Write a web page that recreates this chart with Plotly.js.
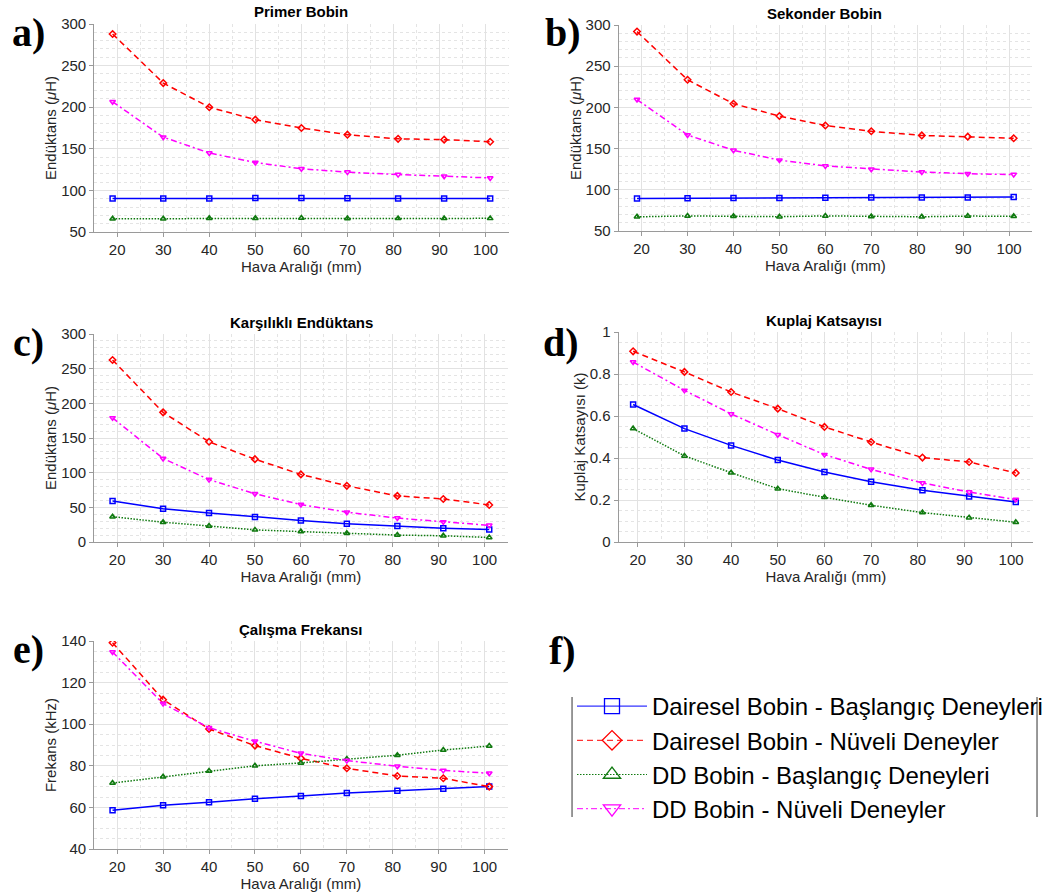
<!DOCTYPE html>
<html>
<head>
<meta charset="utf-8">
<script src="https://cdn.plot.ly/plotly-3.0.1.min.js"></script>
<style>html,body{margin:0;padding:0;background:#fff;}#chart{width:1048px;height:896px;}</style>
</head>
<body>
<div id="chart"></div>
<script>
// Hava aralığı (mm)
const gap = [19, 30, 40, 50, 60, 70, 81, 91, 101];

const seriesNames = [
  "Dairesel Bobin - Başlangıç Deneyleri",
  "Dairesel Bobin - Nüveli Deneyler",
  "DD Bobin - Başlangıç Deneyleri",
  "DD Bobin - Nüveli Deneyler"
];

// a) Primer Bobin (µH)
const primerDaireselBas = [90.4, 90.4, 90.4, 90.9, 91.0, 90.5, 90.4, 90.4, 90.4];
const primerDaireselNuv = [288, 229, 200, 185, 175, 167, 162, 161, 158.5];
const primerDDBas = [66.0, 66.0, 66.5, 66.5, 66.8, 66.3, 66.4, 66.4, 66.4];
const primerDDNuv = [206.5, 164, 145, 133.5, 126, 122, 119, 117, 115];

// b) Sekonder Bobin (µH)
const sekonderDaireselBas = [89.5, 89.7, 89.9, 90.1, 90.3, 90.6, 90.7, 90.8, 91.3];
const sekonderDaireselNuv = [292, 233.5, 204.5, 189.5, 178, 171, 166, 164.5, 162.5];
const sekonderDDBas = [67.2, 68.3, 67.8, 67.4, 68.3, 67.5, 67.3, 68.1, 67.9];
const sekonderDDNuv = [209.5, 166.5, 148, 136, 129, 125, 121.5, 119.5, 118.5];

// c) Karşılıklı Endüktans (µH)
const karsDaireselBas = [59, 48, 42, 36, 31, 26.5, 23, 20, 18];
const karsDaireselNuv = [262.5, 187, 144.5, 119.5, 97.5, 81, 66.5, 62, 53.5];
const karsDDBas = [36.5, 28.5, 23, 17.5, 15, 12.5, 10, 9, 6.5];
const karsDDNuv = [179, 120.5, 90, 69.5, 54, 43, 34.5, 29, 24];

// d) Kuplaj Katsayısı (k)
const kuplajDaireselBas = [0.655, 0.54, 0.46, 0.39, 0.333, 0.287, 0.246, 0.217, 0.19];
const kuplajDaireselNuv = [0.908, 0.81, 0.714, 0.635, 0.548, 0.476, 0.402, 0.381, 0.329];
const kuplajDDBas = [0.54, 0.41, 0.33, 0.254, 0.213, 0.175, 0.14, 0.116, 0.094];
const kuplajDDNuv = [0.857, 0.722, 0.61, 0.511, 0.416, 0.346, 0.281, 0.238, 0.202];

// e) Çalışma Frekansı (kHz)
const frekDaireselBas = [58.6, 61, 62.5, 64.2, 65.5, 66.9, 68, 69, 70];
const frekDaireselNuv = [139.2, 111.8, 97.7, 89.7, 83.6, 78.8, 75.1, 74, 70];
const frekDDBas = [71.7, 74.7, 77.5, 80, 81.4, 83.3, 85.1, 87.6, 89.5];
const frekDDNuv = [134.7, 109.9, 98.3, 91.8, 86, 82.5, 79.8, 77.8, 76.4];

const panelTitles = ["Primer Bobin", "Sekonder Bobin", "Karşılıklı Endüktans", "Kuplaj Katsayısı", "Çalışma Frekansı"];
const panelLetters = ["a)", "b)", "c)", "d)", "e)", "f)"];
const xTitle = "Hava Aralığı (mm)";
const yTitles = ["Endüktans (<i>μ</i>H)", "Endüktans (<i>μ</i>H)", "Endüktans (<i>μ</i>H)", "Kuplaj Katsayısı (k)", "Frekans (kHz)"];

const panels = [
  [primerDaireselBas, primerDaireselNuv, primerDDBas, primerDDNuv],
  [sekonderDaireselBas, sekonderDaireselNuv, sekonderDDBas, sekonderDDNuv],
  [karsDaireselBas, karsDaireselNuv, karsDDBas, karsDDNuv],
  [kuplajDaireselBas, kuplajDaireselNuv, kuplajDDBas, kuplajDDNuv],
  [frekDaireselBas, frekDaireselNuv, frekDDBas, frekDDNuv]
];

// ---- styling / layout ----
const W = 1048, H = 896;
const styles = [
  {color: "#0000FF", dash: "solid", symbol: "square-open"},
  {color: "#FF0000", dash: "6px,4px", symbol: "diamond-open"},
  {color: "#107A10", dash: "1.5px,1.5px", symbol: "triangle-up-open"},
  {color: "#FF00FF", dash: "6px,3px,2px,3px", symbol: "triangle-down-open"}
];
// pixel boxes [left, right, top, bottom]
const boxes = [
  [95, 513, 24, 232],
  [624, 1041, 25, 231],
  [95, 512, 334, 542],
  [624, 1042, 332, 542],
  [95, 512, 641, 849]
];
const xRanges = [[15, 105], [15, 105], [15, 105], [15.9, 104.7], [15, 105]];
const yAxes = [
  {range: [50, 300], dtick: 50, minor: 10},
  {range: [50, 300], dtick: 50, minor: 10},
  {range: [0, 300], dtick: 50, minor: 10},
  {range: [0, 1], dtick: 0.2, minor: 0.05},
  {range: [40, 140], dtick: 20, minor: 5}
];
const titlePos = [[304, 12], [832, 13], [304, 322], [831, 320], [303, 629]];
const letterPos = [[10, 33], [548, 33], [11, 342], [546, 342], [11, 649], [552, 650]];

const FONT = "Liberation Sans, Arial, Helvetica, sans-serif";
const traces = [];
const layout = {
  width: W, height: H,
  margin: {l: 0, r: 0, t: 0, b: 0},
  paper_bgcolor: "#fff", plot_bgcolor: "#fff",
  font: {family: FONT, size: 15, color: "#262626"},
  showlegend: true,
  legend: {
    x: 577 / W, y: 1 - 684 / H, xanchor: "left", yanchor: "top",
    bgcolor: "rgba(0,0,0,0)", borderwidth: 0,
    font: {family: FONT, size: 24, color: "#000"},
    itemsizing: "trace", itemwidth: 70, tracegroupgap: 0
  },
  annotations: [],
  shapes: []
};

panels.forEach((p, i) => {
  const n = i === 0 ? "" : String(i + 1);
  p.forEach((vals, s) => {
    traces.push({
      type: "scatter", mode: "lines+markers",
      x: gap, y: vals,
      xaxis: "x" + n, yaxis: "y" + n,
      name: seriesNames[s],
      legendgroup: "s" + s,
      showlegend: false,
      line: {color: styles[s].color, width: 1.5, dash: styles[s].dash},
      marker: {symbol: styles[s].symbol, size: 5, color: styles[s].color, line: {width: 1.5, color: styles[s].color}}
    });
  });
  const b = boxes[i];
  const grid = {showgrid: true, gridcolor: "#e2e2e2", gridwidth: 1};
  layout["xaxis" + n] = Object.assign({
    domain: [b[0] / W, b[1] / W], anchor: "y" + n,
    range: xRanges[i], dtick: 10, tick0: 0,
    showline: true, linecolor: "#9a9a9a", linewidth: 1,
    ticks: "outside", ticklen: 4, tickcolor: "#9a9a9a",
    zeroline: false,
    tickfont: {size: 15, color: "#262626"},
    minor: {dtick: 5, showgrid: true, gridcolor: "#e4e4e4", griddash: "dot", ticks: ""},
    title: {text: xTitle, font: {size: 15, color: "#262626"}, standoff: 3}
  }, grid);
  const ya = yAxes[i];
  layout["yaxis" + n] = Object.assign({
    domain: [1 - b[3] / H, 1 - b[2] / H], anchor: "x" + n,
    range: ya.range, dtick: ya.dtick, tick0: 0,
    showline: true, linecolor: "#9a9a9a", linewidth: 1,
    ticks: "outside", ticklen: 4, tickcolor: "#9a9a9a",
    zeroline: false,
    tickfont: {size: 15, color: "#262626"},
    minor: {dtick: ya.minor, showgrid: true, gridcolor: "#e4e4e4", griddash: "dot", ticks: ""},
    title: {text: yTitles[i], font: {size: 15, color: "#262626"}, standoff: 0}
  }, grid);
  layout.annotations.push({
    text: "<b>" + panelTitles[i] + "</b>", xref: "paper", yref: "paper",
    x: titlePos[i][0] / W, y: 1 - titlePos[i][1] / H, xanchor: "center", yanchor: "middle",
    showarrow: false, font: {family: FONT, size: 15, color: "#000"}
  });
});

// legend entries (legend-only key samples, no data points)
styles.forEach((st, s) => {
  traces.push({
    type: "scatter", mode: "lines+markers",
    x: [null], y: [null],
    name: seriesNames[s], legendgroup: "s" + s, showlegend: true,
    hoverinfo: "skip",
    line: {color: st.color, width: 1, dash: st.dash},
    marker: {symbol: st.symbol, size: 15, color: st.color, line: {width: 1.3, color: st.color}}
  });
});

letterPos.forEach((lp, i) => {
  layout.annotations.push({
    text: "<b>" + panelLetters[i] + "</b>", xref: "paper", yref: "paper",
    x: lp[0] / W, y: 1 - lp[1] / H, xanchor: "left", yanchor: "middle",
    showarrow: false, font: {family: "Liberation Serif, Times New Roman, serif", size: 40, color: "#000"}
  });
});

// legend side borders
[577, 1046].forEach(px => {
  layout.shapes.push({
    type: "line", xref: "paper", yref: "paper",
    x0: px / W, x1: px / W, y0: 1 - 697 / H, y1: 1 - 817 / H,
    line: {color: "#333", width: 1}
  });
});

Plotly.newPlot("chart", traces, layout, {displayModeBar: false, staticPlot: true});
</script>
</body>
</html>
